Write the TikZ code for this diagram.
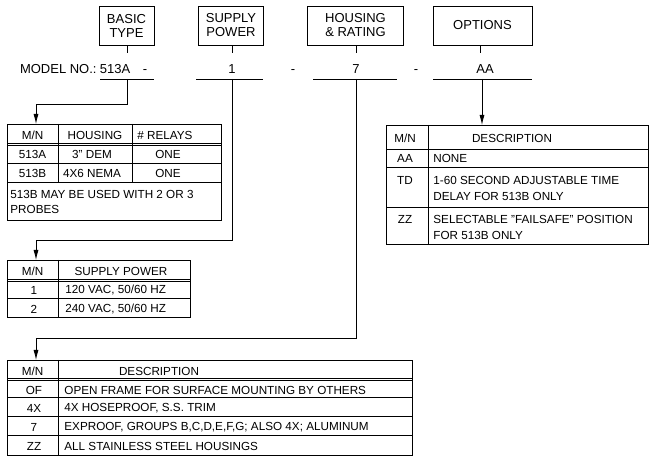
\documentclass[tikz,border=0pt]{standalone}
\usepackage{fontspec}
\setmainfont{Liberation Sans}
\usetikzlibrary{arrows.meta}
\begin{document}
\begin{tikzpicture}[x=1pt,y=-1pt,line width=0.8pt,
  hbox/.style={draw,minimum height=39pt,inner sep=0pt,align=center,font=\fontsize{13}{14}\selectfont},
  code/.style={font=\fontsize{13}{15}\selectfont,inner sep=0pt,anchor=base},
  tbl/.style={draw,inner sep=0pt},
  cell/.style={inner sep=0pt,font=\fontsize{11.7}{14}\selectfont},
  lcell/.style={cell,anchor=west,align=left},
  arr/.style={-{Latex[length=10pt,width=5pt]}},
  dbl/.style={line width=0.6pt}]
\useasboundingbox (0,0) rectangle (649,457);

% header boxes
\node[hbox,minimum width=55pt] (bt) at (126.5,25.5) {BASIC\\TYPE};
\node[hbox,minimum width=65pt] (sp) at (231,25.5) {SUPPLY\\POWER};
\node[hbox,minimum width=96pt] (hr) at (355.5,25.5) {HOUSING\\\& RATING};
\node[hbox,minimum width=99pt] (op) at (482.5,25.5) {OPTIONS};

% model row
\node[code,anchor=base east] (mn) at (97,73.5) {MODEL NO.:};
\node[code] (c1) at (115,73.5) {513A};
\node[code] (d1) at (145,73.5) {-};
\node[code] (c2) at (232,73.5) {1};
\node[code] (d2) at (293,73.5) {-};
\node[code] (c3) at (356,73.5) {7};
\node[code] (d3) at (416,73.5) {-};
\node[code] (c4) at (485,73.5) {AA};

\coordinate (s1) at (127,53); \coordinate (s2) at (232,53);
\coordinate (s3) at (356,53); \coordinate (s4) at (480,53);
\draw (bt.south -| s1) -- (s1);
\draw (sp.south -| s2) -- (s2);
\draw (hr.south -| s3) -- (s3);
\draw (op.south -| s4) -- (s4);

% underlines
\coordinate (u1) at (127,79); \coordinate (u2) at (232,79);
\coordinate (u3) at (356,79); \coordinate (u4) at (482,79);
\draw (100,79) -- (154,79);
\draw (196,79) -- (263,79);
\draw (313,79) -- (397,79);
\draw (433,79) -- (532,79);

% tables outlines
\node[tbl,minimum width=214pt,minimum height=96pt] (t1) at (114,172) {};
\node[tbl,minimum width=262pt,minimum height=119pt] (t2) at (517,184.5) {};
\node[tbl,minimum width=183pt,minimum height=57pt] (t3) at (98.5,288.5) {};
\node[tbl,minimum width=405pt,minimum height=95pt] (t4) at (209.5,407.5) {};

% connectors
\coordinate (b1) at (36,104); \coordinate (a1) at (36,124);
\coordinate (b2) at (36,240); \coordinate (a2) at (36,260);
\coordinate (b3) at (36,338); \coordinate (a3) at (36,360);
\coordinate (a4) at (482,125);
\draw[arr] (u1) |- (b1) -- (a1);
\draw[arr] (u2) |- (b2) -- (a2);
\draw[arr] (u3) |- (b3) -- (a3);
\draw[arr] (u4) -- (a4);

% table 1
\draw (58,124) -- (58,182);
\draw (132,124) -- (132,182);
\draw[dbl] (7,143) -- (221,143);
\draw[dbl] (7,145.5) -- (221,145.5);
\draw (7,163) -- (221,163);
\draw (7,182) -- (221,182);
\node[cell] (t1h1) at (32.5,135) {M/N};
\node[cell] (t1h2) at (95,135) {HOUSING};
\node[lcell] (t1h3) at (137,135) {\# RELAYS};
\node[cell] (t1a1) at (32.5,154) {513A};
\node[cell] (t1a2) at (92,154) {3" DEM};
\node[cell] (t1a3) at (168,154) {ONE};
\node[cell] (t1b1) at (32.5,173) {513B};
\node[cell] (t1b2) at (92,173) {4X6 NEMA};
\node[cell] (t1b3) at (168,173) {ONE};
\node[lcell] (t1n1) at (10,194) {513B MAY BE USED WITH 2 OR 3};
\node[lcell] (t1n2) at (10,209) {PROBES};

% table 2
\draw (428,125) -- (428,244);
\draw (386,149) -- (648,149);
\draw (386,167) -- (648,167);
\draw (386,207) -- (648,207);
\node[cell] (t2h1) at (405,138) {M/N};
\node[cell] (t2h2) at (512,138) {DESCRIPTION};
\node[cell] (t2a1) at (405,158) {AA};
\node[lcell] (t2a2) at (433,158) {NONE};
\node[cell] (t2b1) at (405,180) {TD};
\node[lcell] (t2b2) at (433,180) {1-60 SECOND ADJUSTABLE TIME};
\node[lcell] (t2b3) at (433,196) {DELAY FOR 513B ONLY};
\node[cell] (t2c1) at (405,219) {ZZ};
\node[lcell] (t2c2) at (433,219) {SELECTABLE "FAILSAFE" POSITION};
\node[lcell] (t2c3) at (433,235) {FOR 513B ONLY};

% table 3
\draw (58,260) -- (58,317);
\draw[dbl] (7,279) -- (190,279);
\draw[dbl] (7,281.5) -- (190,281.5);
\draw (7,298) -- (190,298);
\node[cell] (t3h1) at (32.5,271) {M/N};
\node[cell] (t3h2) at (121,271) {SUPPLY POWER};
\node[cell] (t3a1) at (34,290) {1};
\node[lcell] (t3a2) at (65,290) {120 VAC, 50/60 HZ};
\node[cell] (t3b1) at (34,309) {2};
\node[lcell] (t3b2) at (65,309) {240 VAC, 50/60 HZ};

% table 4
\draw (58,360) -- (58,455);
\draw[dbl] (7,378) -- (412,378);
\draw[dbl] (7,380.5) -- (412,380.5);
\draw (7,397) -- (412,397);
\draw (7,416) -- (412,416);
\draw (7,435) -- (412,435);
\node[cell] (t4h1) at (32.5,371) {M/N};
\node[cell] (t4h2) at (159,371) {DESCRIPTION};
\node[cell] (t4a1) at (34,390) {OF};
\node[lcell] (t4a2) at (64,390) {OPEN FRAME FOR SURFACE MOUNTING BY OTHERS};
\node[cell] (t4b1) at (34,408) {4X};
\node[lcell] (t4b2) at (64,408) {4X HOSEPROOF, S.S. TRIM};
\node[cell] (t4c1) at (34,427) {7};
\node[lcell] (t4c2) at (64,427) {EXPROOF, GROUPS B,C,D,E,F,G; ALSO 4X; ALUMINUM};
\node[cell] (t4d1) at (34,446) {ZZ};
\node[lcell] (t4d2) at (64,446) {ALL STAINLESS STEEL HOUSINGS};
\end{tikzpicture}
\end{document}
